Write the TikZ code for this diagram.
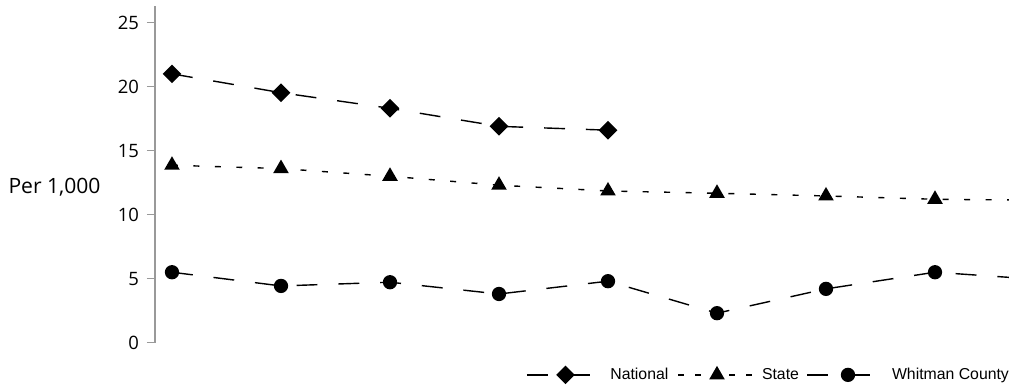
\documentclass[tikz,border=0pt]{standalone}
\usepackage{fontspec}
\setmainfont{Open Sans}
\newfontfamily\legfont{Liberation Sans}
\usetikzlibrary{shapes.geometric}

\begin{document}
\begin{tikzpicture}[x=0.02cm,y=0.256cm,
  axisgray/.style={draw=black!40,line width=0.6pt},
  natline/.style={line width=0.8pt,dash pattern=on 11.9pt off 11.9pt},
  staline/.style={line width=0.8pt,dash pattern=on 3.4pt off 8.8pt},
  whiline/.style={natline},
  diam/.style={diamond,fill=black,inner sep=0pt,minimum size=0.38cm},
  tri/.style={regular polygon,regular polygon sides=3,fill=black,inner sep=0pt,minimum size=0.36cm},
  whidot/.style={circle,fill=black,inner sep=0pt,minimum size=0.286cm},
  ticklab/.style={anchor=east,inner sep=0pt,font=\fontsize{10.5}{12}\selectfont},
  leglab/.style={anchor=base west,inner sep=0pt,font=\legfont\fontsize{9}{11}\selectfont}]
\useasboundingbox (-155,-3.383) rectangle (854,26.773);

% axis
\draw[axisgray] (0,0) -- (0,26.3);
\draw[axisgray] (-8,0) -- (0,0);   \node[ticklab] (t0) at (-15.7,0) {0};
\draw[axisgray] (-8,5) -- (0,5);   \node[ticklab] (t5) at (-15.7,5) {5};
\draw[axisgray] (-8,10) -- (0,10); \node[ticklab] (t10) at (-15.7,10) {10};
\draw[axisgray] (-8,15) -- (0,15); \node[ticklab] (t15) at (-15.7,15) {15};
\draw[axisgray] (-8,20) -- (0,20); \node[ticklab] (t20) at (-15.7,20) {20};
\draw[axisgray] (-8,25) -- (0,25); \node[ticklab] (t25) at (-15.7,25) {25};
\node[anchor=base,font=\fontsize{12}{14}\selectfont] (ylab) at (-100.5,11.67) {Per 1,000};

% national
\node[diam] (n1) at (17,21.0) {};
\node[diam] (n2) at (126,19.53) {};
\node[diam] (n3) at (235,18.31) {};
\node[diam] (n4) at (344,16.9) {};
\node[diam] (n5) at (453,16.6) {};
\draw[natline] (n1.center) -- (n2.center) -- (n3.center) -- (n4.center) -- (n5.center);

% state
\node[tri] (s1) at (17,13.86) {};
\node[tri] (s2) at (126,13.6) {};
\node[tri] (s3) at (235,13.0) {};
\node[tri] (s4) at (344,12.3) {};
\node[tri] (s5) at (453,11.85) {};
\node[tri] (s6) at (562,11.67) {};
\node[tri] (s7) at (671,11.46) {};
\node[tri] (s8) at (780,11.2) {};
\coordinate (s9) at (854,11.15);
\draw[staline] (s1.center) -- (s2.center) -- (s3.center) -- (s4.center) -- (s5.center)
  -- (s6.center) -- (s7.center) -- (s8.center) -- (s9);

% whitman county
\node[whidot] (w1) at (17,5.5) {};
\node[whidot] (w2) at (126,4.43) {};
\node[whidot] (w3) at (235,4.72) {};
\node[whidot] (w4) at (344,3.8) {};
\node[whidot] (w5) at (453,4.8) {};
\node[whidot] (w6) at (562,2.3) {};
\node[whidot] (w7) at (671,4.2) {};
\node[whidot] (w8) at (780,5.5) {};
\coordinate (w9) at (854,5.1);
\draw[whiline] (w1.center) -- (w2.center) -- (w3.center) -- (w4.center) -- (w5.center)
  -- (w6.center) -- (w7.center) -- (w8.center) -- (w9);

% legend
\coordinate (lna) at (372,-2.52); \coordinate (lnb) at (449,-2.52);
\node[diam] (lnm) at (410.5,-2.52) {};
\draw[natline] (lna) -- (lnb);
\node[leglab] (lnt) at (455,-2.91) {National};
\coordinate (lsa) at (523,-2.52); \coordinate (lsb) at (600,-2.52);
\node[tri] (lsm) at (562,-2.52) {};
\draw[staline,dash pattern=on 3.4pt off 6.3pt] (lsa) -- (lsb);
\node[leglab] (lst) at (606.7,-2.91) {State};
\coordinate (lwa) at (652,-2.52); \coordinate (lwb) at (734,-2.52);
\node[whidot] (lwm) at (693,-2.52) {};
\draw[whiline] (lwa) -- (lwb);
\node[leglab] (lwt) at (736.7,-2.91) {Whitman County};
\end{tikzpicture}
\end{document}
